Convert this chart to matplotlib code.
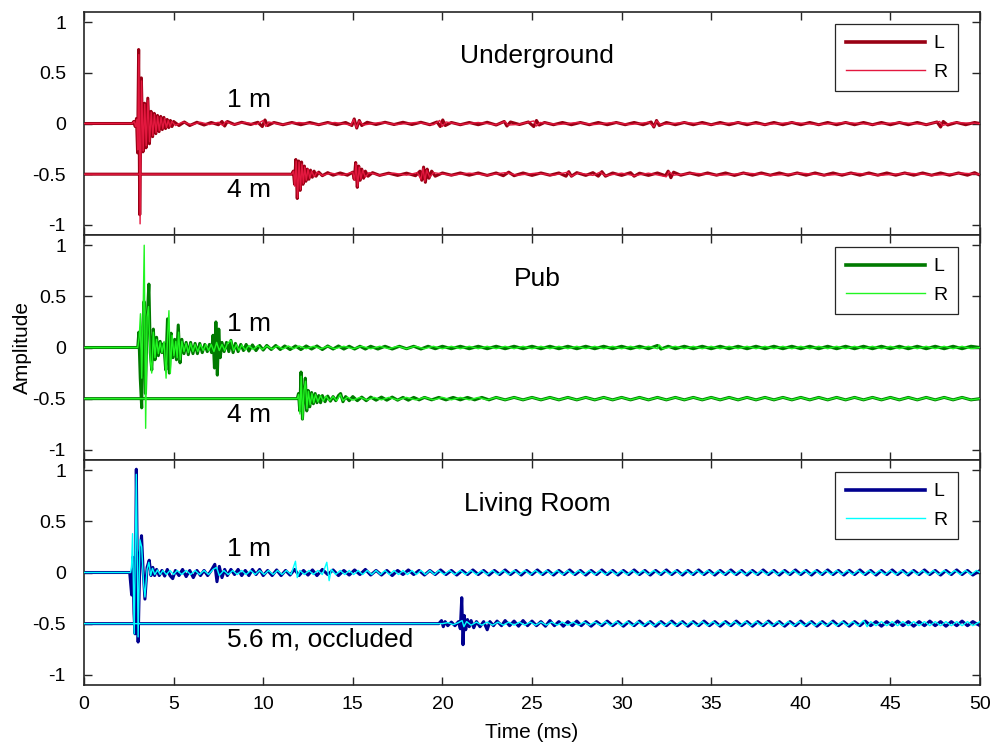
import matplotlib
matplotlib.use('Agg')
import matplotlib.pyplot as plt
from matplotlib.lines import Line2D

plt.rcParams['font.family'] = ['Liberation Sans', 'DejaVu Sans']

# ---------------- data ----------------
time_ticks = [0, 5, 10, 15, 20, 25, 30, 35, 40, 45, 50]
amp_ticks = [-1, -0.5, 0, 0.5, 1]
amp_tick_labels = ['-1', '-0.5', '0', '0.5', '1']
rooms = ['Underground', 'Pub', 'Living Room']
distance_labels = [['1 m', '4 m'], ['1 m', '4 m'], ['1 m', '5.6 m, occluded']]
trace_offsets = [0.0, -0.5]
channel_names = ['L', 'R']

# (time in ms, amplitude relative to trace baseline)
ug_1m_L = [(0, 0), (2.7, 0), (2.78, 0.02), (2.86, -0.03), (2.93, 0.05), (2.99, -0.29), (3.05, 0.73),
           (3.11, -0.9), (3.2, 0.45), (3.29, -0.28), (3.38, 0.2), (3.46, -0.24), (3.56, 0.25), (3.65, -0.2),
           (3.74, 0.12), (3.83, -0.13), (3.92, 0.1), (4.01, -0.1), (4.1, 0.08), (4.19, -0.08), (4.28, 0.07),
           (4.37, -0.06), (4.46, 0.06), (4.55, -0.05), (4.64, 0.04), (4.73, -0.04), (4.82, 0.03), (4.91, -0.03),
           (5.0, 0.02), (5.3, -0.02), (5.6, 0.015), (5.9, -0.02), (6.3, 0.012), (6.7, -0.015), (7.1, 0.01),
           (7.5, -0.012), (7.7, 0.02), (7.85, -0.025), (8.0, 0.02), (8.4, -0.01), (8.8, 0.012), (9.3, -0.01),
           (9.7, 0.012), (9.95, -0.03), (10.1, 0.035), (10.25, -0.02), (10.6, 0.01), (11.1, -0.012), (11.6, 0.01),
           (12.1, -0.012), (12.6, 0.01), (13.1, -0.012), (13.6, 0.01), (14.1, -0.012), (14.6, 0.01), (14.95, -0.02),
           (15.08, 0.045), (15.22, -0.045), (15.36, 0.03), (15.5, -0.02), (15.8, 0.012), (16.3, -0.01), (16.8, 0.012),
           (17.3, -0.01), (17.8, 0.012), (18.3, -0.01), (18.8, 0.012), (19.3, -0.012), (19.7, 0.015), (19.88, -0.03),
           (20.02, 0.035), (20.16, -0.02), (20.5, 0.01), (21.0, -0.012), (21.5, 0.01), (22.0, -0.012), (22.5, 0.012),
           (23.0, -0.015), (23.45, 0.02), (23.6, -0.025), (23.8, 0.015), (24.3, -0.01), (24.8, 0.015), (25.1, -0.03),
           (25.25, 0.03), (25.4, -0.015), (25.7, 0.01), (26.2, -0.012), (26.7, 0.01), (27.2, -0.012), (27.7, 0.01),
           (28.2, -0.012), (28.7, 0.01), (29.2, -0.012), (29.7, 0.01), (30.2, -0.012), (30.7, 0.01), (31.2, -0.012),
           (31.65, 0.015), (31.8, -0.035), (31.95, 0.03), (32.1, -0.02), (32.5, 0.01), (33.0, -0.012), (33.5, 0.01),
           (34.0, -0.012), (34.5, 0.01), (35.0, -0.012), (35.5, 0.01), (36.0, -0.012), (36.5, 0.01), (37.0, -0.012),
           (37.5, 0.01), (38.0, -0.012), (38.5, 0.01), (39.0, -0.012), (39.5, 0.01), (40.0, -0.012), (40.5, 0.01),
           (41.0, -0.012), (41.5, 0.01), (42.0, -0.012), (42.5, 0.01), (43.0, -0.012), (43.5, 0.01), (44.0, -0.012),
           (44.5, 0.01), (45.0, -0.012), (45.5, 0.01), (46.0, -0.012), (46.5, 0.01), (47.0, -0.012), (47.6, 0.015),
           (47.8, -0.035), (47.95, 0.02), (48.2, -0.015), (48.7, 0.01), (49.2, -0.012), (49.7, 0.01), (50, 0)]
ug_1m_R = [(0, 0), (2.7, 0), (2.8, 0.02), (2.88, -0.03), (2.95, 0.04), (3.0, -0.26), (3.06, 0.68), (3.13, -0.99),
           (3.21, 0.42), (3.3, -0.27), (3.39, 0.19), (3.47, -0.22), (3.57, 0.23), (3.66, -0.18), (3.75, 0.11),
           (3.84, -0.12), (3.93, 0.09), (4.02, -0.09), (4.11, 0.07), (4.2, -0.07), (4.3, 0.06), (4.4, -0.05),
           (4.5, 0.05), (4.6, -0.04), (4.7, 0.03), (4.8, -0.03), (4.9, 0.02), (5.1, -0.02), (5.5, 0.015),
           (6.0, -0.012), (6.5, 0.012), (7.0, -0.01), (7.5, 0.012), (7.75, -0.02), (7.9, 0.02), (8.3, -0.01),
           (9.0, 0.01), (9.6, -0.01), (10.0, 0.03), (10.15, -0.03), (10.3, 0.015), (11.0, -0.01), (12.0, 0.01),
           (13.0, -0.01), (14.0, 0.01), (14.9, -0.015), (15.05, 0.04), (15.2, -0.04), (15.35, 0.025), (15.6, -0.015),
           (16.5, 0.01), (17.5, -0.01), (18.5, 0.01), (19.5, -0.012), (19.85, 0.03), (20.0, -0.03), (20.2, 0.015),
           (21.0, -0.01), (22.0, 0.01), (23.0, -0.012), (23.5, 0.02), (23.65, -0.015), (24.2, -0.01), (25.1, 0.025),
           (25.25, -0.025), (25.45, 0.01), (26.5, -0.01), (27.5, 0.01), (28.5, -0.01), (29.5, 0.01), (30.5, -0.01),
           (31.5, 0.012), (31.8, -0.03), (31.95, 0.025), (32.2, -0.01), (33.5, 0.01), (35.0, -0.01), (36.5, 0.01),
           (38.0, -0.01), (39.5, 0.01), (41.0, -0.01), (42.5, 0.01), (44.0, -0.01), (45.5, 0.01), (47.0, -0.01),
           (47.75, 0.02), (47.9, -0.02), (48.5, 0.01), (50, 0)]
ug_4m_L = [(0, 0), (11.6, 0), (11.68, 0.03), (11.75, -0.1), (11.82, 0.145), (11.9, -0.24), (11.98, 0.13),
           (12.06, -0.16), (12.14, 0.12), (12.22, -0.1), (12.3, 0.08), (12.38, -0.07), (12.46, 0.05), (12.55, -0.05),
           (12.64, 0.04), (12.74, -0.03), (12.84, 0.03), (12.95, -0.02), (13.1, 0.02), (13.3, -0.015), (13.6, 0.015),
           (13.9, -0.01), (14.3, 0.012), (14.7, -0.01), (15.0, 0.02), (15.08, -0.05), (15.16, 0.115), (15.25, -0.13),
           (15.33, 0.08), (15.41, -0.06), (15.5, 0.05), (15.6, -0.04), (15.7, 0.03), (15.85, -0.02), (16.1, 0.015),
           (16.5, -0.012), (17.0, 0.01), (17.5, -0.012), (18.0, 0.01), (18.5, -0.015), (18.75, 0.03), (18.85, -0.06),
           (18.95, 0.07), (19.05, -0.08), (19.15, 0.05), (19.25, -0.04), (19.4, 0.03), (19.6, -0.02), (20.0, 0.012),
           (20.5, -0.01), (21.0, 0.012), (21.5, -0.01), (22.0, 0.012), (22.5, -0.012), (23.0, 0.012), (23.4, -0.015),
           (23.7, 0.02), (24.0, -0.015), (24.5, 0.012), (25.0, -0.012), (25.5, 0.012), (26.0, -0.01), (26.5, 0.012),
           (26.9, -0.02), (27.05, 0.025), (27.2, -0.02), (27.5, 0.015), (28.0, -0.012), (28.4, 0.015), (28.7, -0.02),
           (28.9, 0.025), (29.1, -0.02), (29.5, 0.012), (30.0, -0.012), (30.5, 0.015), (30.7, -0.02), (31.0, 0.01),
           (31.5, -0.012), (32.0, 0.012), (32.45, -0.015), (32.6, 0.03), (32.75, -0.035), (32.9, 0.02), (33.3, -0.01),
           (33.8, 0.012), (34.3, -0.01), (34.8, 0.012), (35.3, -0.01), (35.8, 0.012), (36.3, -0.012), (36.8, 0.012),
           (37.3, -0.01), (37.8, 0.012), (38.3, -0.01), (38.8, 0.012), (39.3, -0.01), (39.8, 0.012), (40.3, -0.01),
           (40.8, 0.012), (41.3, -0.01), (41.8, 0.012), (42.3, -0.01), (42.8, 0.012), (43.3, -0.01), (43.8, 0.012),
           (44.3, -0.01), (44.8, 0.012), (45.3, -0.01), (45.8, 0.012), (46.3, -0.01), (46.8, 0.012), (47.3, -0.01),
           (47.8, 0.012), (48.3, -0.01), (48.8, 0.012), (49.3, -0.01), (49.7, 0.015), (50, -0.01)]
ug_4m_R = [(0, 0), (11.6, 0), (11.7, 0.03), (11.77, -0.12), (11.84, 0.13), (11.92, -0.23), (12.0, 0.12),
           (12.08, -0.15), (12.16, 0.1), (12.24, -0.09), (12.32, 0.07), (12.4, -0.06), (12.5, 0.05), (12.6, -0.04),
           (12.7, 0.03), (12.85, -0.025), (13.0, 0.02), (13.3, -0.012), (13.8, 0.01), (14.4, -0.01), (15.0, 0.02),
           (15.1, -0.06), (15.18, 0.105), (15.27, -0.12), (15.36, 0.07), (15.45, -0.05), (15.55, 0.04), (15.7, -0.03),
           (15.9, 0.015), (16.5, -0.01), (17.3, 0.01), (18.0, -0.01), (18.6, 0.015), (18.8, -0.05), (18.92, 0.06),
           (19.02, -0.07), (19.12, 0.04), (19.3, -0.03), (19.5, 0.015), (20.5, -0.01), (21.5, 0.01), (22.5, -0.01),
           (23.5, 0.015), (24.2, -0.01), (25.2, 0.01), (26.2, -0.01), (27.0, 0.02), (27.2, -0.02), (27.6, 0.012),
           (28.4, -0.012), (28.8, 0.02), (29.1, -0.015), (30.0, 0.01), (30.7, -0.015), (31.5, 0.01), (32.5, -0.025),
           (32.65, 0.025), (32.9, -0.01), (34.0, 0.01), (35.5, -0.01), (37.0, 0.01), (38.5, -0.01), (40.0, 0.01),
           (41.5, -0.01), (43.0, 0.01), (44.5, -0.01), (46.0, 0.01), (47.5, -0.01), (49.0, 0.01), (50, 0)]

pub_1m_L = [(0, 0), (3.0, 0), (3.06, 0.15), (3.14, -0.3), (3.22, -0.59), (3.28, 0.2), (3.35, 0.45), (3.43, -0.45),
            (3.52, 0.25), (3.62, 0.62), (3.7, -0.05), (3.78, -0.22), (3.87, 0.18), (3.96, -0.12), (4.05, 0.1),
            (4.15, -0.08), (4.25, 0.06), (4.35, -0.05), (4.45, 0.04), (4.56, -0.22), (4.66, 0.28), (4.76, -0.25),
            (4.86, 0.14), (4.96, -0.1), (5.06, 0.08), (5.16, -0.12), (5.26, 0.22), (5.36, -0.15), (5.46, 0.08),
            (5.58, -0.06), (5.7, 0.05), (5.82, -0.07), (5.95, 0.05), (6.08, -0.06), (6.2, 0.04), (6.33, -0.06),
            (6.46, 0.04), (6.6, -0.05), (6.74, 0.03), (6.88, -0.04), (7.0, 0.03), (7.12, -0.05), (7.2, 0.12),
            (7.28, -0.2), (7.36, 0.25), (7.44, -0.27), (7.52, 0.18), (7.6, -0.1), (7.7, 0.05), (7.82, -0.04),
            (7.95, 0.05), (8.08, -0.04), (8.2, 0.07), (8.32, -0.05), (8.45, 0.04), (8.6, -0.04), (8.75, 0.03),
            (8.9, -0.03), (9.05, 0.03), (9.2, -0.035), (9.4, 0.025), (9.6, -0.03), (9.8, 0.02), (10.0, -0.025),
            (10.2, 0.02), (10.45, -0.02), (10.7, 0.02), (10.95, -0.02), (11.2, 0.015), (11.5, -0.02), (11.8, 0.015),
            (12.1, -0.02), (12.4, 0.015), (12.7, -0.015), (13.0, 0.015), (13.3, -0.02), (13.6, 0.015), (13.9, -0.015),
            (14.2, 0.015), (14.5, -0.015), (14.8, 0.012), (15.1, -0.015), (15.4, 0.012), (15.7, -0.015), (16.0, 0.012),
            (16.4, -0.015), (16.8, 0.012), (17.2, -0.015), (17.6, 0.012), (18.0, -0.012), (18.4, 0.012), (18.8, -0.015),
            (19.2, 0.012), (19.6, -0.012), (20.0, 0.012), (20.5, -0.012), (21.0, 0.012), (21.5, -0.012), (22.0, 0.012),
            (22.5, -0.012), (23.0, 0.012), (23.5, -0.012), (24.0, 0.012), (24.5, -0.012), (25.0, 0.012), (25.5, -0.012),
            (26.0, 0.012), (26.5, -0.012), (27.0, 0.012), (27.5, -0.012), (28.0, 0.012), (28.5, -0.012), (29.0, 0.012),
            (29.5, -0.012), (30.0, 0.012), (30.5, -0.012), (31.0, 0.012), (31.5, -0.012), (32.0, 0.02), (32.2, -0.015),
            (32.6, 0.012), (33.0, -0.012), (33.5, 0.012), (34.0, -0.012), (34.5, 0.012), (35.0, -0.012), (35.5, 0.012),
            (36.0, -0.012), (36.5, 0.012), (37.0, -0.012), (37.5, 0.012), (38.0, -0.012), (38.5, 0.012), (39.0, -0.012),
            (39.5, 0.012), (40.0, -0.012), (40.5, 0.012), (41.0, -0.012), (41.5, 0.012), (42.0, -0.012), (42.5, 0.012),
            (43.0, -0.012), (43.5, 0.012), (44.0, -0.012), (44.5, 0.012), (45.0, -0.012), (45.5, 0.012), (46.0, -0.012),
            (46.5, 0.012), (47.0, -0.012), (47.5, 0.012), (48.0, -0.012), (48.5, 0.012), (49.0, -0.012), (49.5, 0.012),
            (50, 0)]
pub_1m_R = [(0, 0), (3.0, 0), (3.08, 0.1), (3.15, 0.33), (3.22, -0.3), (3.29, 0.25), (3.36, 1.0), (3.44, -0.79),
            (3.52, 0.3), (3.6, 0.4), (3.7, -0.12), (3.78, -0.25), (3.87, 0.15), (3.96, -0.1), (4.05, 0.08),
            (4.15, -0.06), (4.25, 0.05), (4.35, -0.05), (4.47, 0.06), (4.58, -0.3), (4.66, 0.1), (4.74, 0.36),
            (4.82, -0.25), (4.92, 0.12), (5.02, -0.08), (5.12, 0.06), (5.2, -0.1), (5.28, 0.15), (5.37, -0.12),
            (5.46, 0.06), (5.58, -0.04), (5.7, 0.04), (5.82, -0.05), (5.95, 0.04), (6.08, -0.04), (6.2, 0.03),
            (6.35, -0.04), (6.5, 0.03), (6.65, -0.03), (6.8, 0.03), (6.95, -0.03), (7.1, 0.03), (7.25, -0.04),
            (7.4, 0.05), (7.55, -0.03), (7.7, 0.03), (7.85, -0.03), (8.0, 0.04), (8.2, 0.07), (8.35, -0.03),
            (8.5, 0.03), (8.65, -0.03), (8.8, 0.025), (9.0, -0.025), (9.2, 0.02), (9.45, -0.02), (9.7, 0.02),
            (9.95, -0.02), (10.2, 0.015), (10.5, -0.015), (10.8, 0.015), (11.1, -0.015), (11.4, 0.015), (11.7, -0.012),
            (12.0, 0.015), (12.4, -0.012), (12.8, 0.012), (13.2, -0.012), (13.6, 0.012), (14.0, -0.012), (14.5, 0.012),
            (15.0, -0.012), (15.5, 0.012), (16.0, -0.012), (16.5, 0.012), (17.0, -0.012), (17.5, 0.012), (18.0, -0.012),
            (18.5, 0.012), (19.0, -0.012), (19.5, 0.012), (20.0, -0.012), (20.5, 0.012), (21.0, -0.012), (21.5, 0.012),
            (22.0, -0.012), (22.5, 0.012), (23.0, -0.012), (23.5, 0.012), (24.0, -0.012), (24.5, 0.012), (25.0, -0.012),
            (25.5, 0.012), (26.0, -0.012), (26.5, 0.012), (27.0, -0.012), (27.5, 0.012), (28.0, -0.012), (28.5, 0.012),
            (29.0, -0.012), (29.5, 0.012), (30.0, -0.012), (30.5, 0.012), (31.0, -0.012), (31.5, 0.012), (32.0, -0.012),
            (32.1, 0.025), (32.3, -0.012), (33.0, 0.012), (33.5, -0.012), (34.0, 0.012), (34.5, -0.012), (35.0, 0.012),
            (35.5, -0.012), (36.0, 0.012), (36.5, -0.012), (37.0, 0.012), (37.5, -0.012), (38.0, 0.012), (38.5, -0.012),
            (39.0, 0.012), (39.5, -0.012), (40.0, 0.012), (40.5, -0.012), (41.0, 0.012), (41.5, -0.012), (42.0, 0.012),
            (42.5, -0.012), (43.0, 0.012), (43.5, -0.012), (44.0, 0.012), (44.5, -0.012), (45.0, 0.012), (45.5, -0.012),
            (46.0, 0.012), (46.5, -0.012), (47.0, 0.012), (47.5, -0.012), (48.0, 0.012), (48.5, -0.012), (49.0, 0.012),
            (49.5, -0.012), (50, 0)]
pub_4m_L = [(0, 0), (11.9, 0), (11.97, 0.05), (12.04, -0.12), (12.11, 0.26), (12.19, -0.2), (12.27, 0.05),
            (12.35, 0.2), (12.43, -0.12), (12.51, 0.08), (12.6, -0.08), (12.7, 0.06), (12.8, -0.05), (12.9, 0.05),
            (13.0, -0.04), (13.1, 0.03), (13.2, -0.04), (13.3, 0.03), (13.45, -0.03), (13.6, 0.025), (13.75, -0.025),
            (13.9, 0.02), (14.05, -0.02), (14.2, 0.03), (14.32, 0.05), (14.45, -0.03), (14.6, 0.02), (14.8, -0.02),
            (15.0, 0.02), (15.25, -0.02), (15.5, 0.015), (15.75, -0.02), (16.0, 0.015), (16.3, -0.015), (16.6, 0.015),
            (16.9, -0.015), (17.2, 0.015), (17.5, -0.015), (17.8, 0.012), (18.1, -0.015), (18.4, 0.012), (18.7, -0.012),
            (19.0, 0.012), (19.4, -0.012), (19.8, 0.012), (20.2, -0.012), (20.6, 0.012), (21.0, -0.012), (21.4, 0.012),
            (21.8, -0.012), (22.2, 0.012), (22.6, -0.012), (23.0, 0.012), (23.5, -0.012), (24.0, 0.012), (24.5, -0.012),
            (25.0, 0.012), (25.5, -0.012), (26.0, 0.012), (26.5, -0.012), (27.0, 0.012), (27.5, -0.012), (28.0, 0.012),
            (28.5, -0.012), (29.0, 0.012), (29.5, -0.012), (30.0, 0.012), (30.5, -0.012), (31.0, 0.012), (31.5, -0.012),
            (32.0, 0.012), (32.5, -0.012), (33.0, 0.012), (33.5, -0.012), (34.0, 0.012), (34.5, -0.012), (35.0, 0.012),
            (35.5, -0.012), (36.0, 0.012), (36.5, -0.012), (37.0, 0.012), (37.5, -0.012), (38.0, 0.012), (38.5, -0.012),
            (39.0, 0.012), (39.5, -0.012), (40.0, 0.012), (40.5, -0.012), (41.0, 0.012), (41.5, -0.012), (42.0, 0.012),
            (42.5, -0.012), (43.0, 0.012), (43.5, -0.012), (44.0, 0.012), (44.5, -0.012), (45.0, 0.012), (45.5, -0.012),
            (46.0, 0.012), (46.5, -0.012), (47.0, 0.012), (47.5, -0.012), (48.0, 0.012), (48.5, -0.012), (49.0, 0.012),
            (49.5, -0.012), (50, 0)]
pub_4m_R = [(0, 0), (11.9, 0), (11.98, 0.04), (12.05, -0.15), (12.12, 0.22), (12.2, -0.2), (12.28, 0.08),
            (12.36, 0.17), (12.44, -0.1), (12.52, 0.07), (12.62, -0.06), (12.72, 0.05), (12.82, -0.04), (12.92, 0.04),
            (13.05, -0.03), (13.2, 0.03), (13.35, -0.025), (13.5, 0.025), (13.7, -0.02), (13.9, 0.02), (14.1, -0.02),
            (14.3, 0.04), (14.45, -0.02), (14.7, 0.015), (15.0, -0.015), (15.4, 0.012), (15.8, -0.012), (16.2, 0.012),
            (16.6, -0.012), (17.0, 0.012), (17.5, -0.012), (18.0, 0.012), (18.5, -0.012), (19.0, 0.012), (19.5, -0.012),
            (20.0, 0.012), (20.5, -0.012), (21.0, 0.012), (21.5, -0.012), (22.0, 0.012), (22.5, -0.012), (23.0, 0.012),
            (23.5, -0.012), (24.0, 0.012), (24.5, -0.012), (25.0, 0.012), (25.5, -0.012), (26.0, 0.012), (26.5, -0.012),
            (27.0, 0.012), (27.5, -0.012), (28.0, 0.012), (28.5, -0.012), (29.0, 0.012), (29.5, -0.012), (30.0, 0.012),
            (30.5, -0.012), (31.0, 0.012), (31.5, -0.012), (32.0, 0.012), (32.5, -0.012), (33.0, 0.012), (33.5, -0.012),
            (34.0, 0.012), (34.5, -0.012), (35.0, 0.012), (35.5, -0.012), (36.0, 0.012), (36.5, -0.012), (37.0, 0.012),
            (37.5, -0.012), (38.0, 0.012), (38.5, -0.012), (39.0, 0.012), (39.5, -0.012), (40.0, 0.012), (40.5, -0.012),
            (41.0, 0.012), (41.5, -0.012), (42.0, 0.012), (42.5, -0.012), (43.0, 0.012), (43.5, -0.012), (44.0, 0.012),
            (44.5, -0.012), (45.0, 0.012), (45.5, -0.012), (46.0, 0.012), (46.5, -0.012), (47.0, 0.012), (47.5, -0.012),
            (48.0, 0.012), (48.5, -0.012), (49.0, 0.012), (49.5, -0.012), (50, 0)]

lr_1m_L = [(0, 0), (2.55, 0), (2.6, -0.1), (2.66, -0.22), (2.72, 0.15), (2.79, -0.4), (2.85, -0.6), (2.92, 1.01),
           (3.02, -0.68), (3.12, 0.15), (3.21, 0.36), (3.3, 0.02), (3.4, -0.26), (3.52, 0.05), (3.64, 0.12),
           (3.74, -0.03), (3.84, 0.05), (3.94, -0.03), (4.05, 0.03), (4.2, -0.03), (4.35, 0.02), (4.5, -0.035),
           (4.65, 0.03), (4.8, -0.03), (4.95, -0.06), (5.1, 0.02), (5.3, -0.03), (5.5, 0.03), (5.7, -0.04),
           (5.9, 0.02), (6.1, -0.05), (6.3, 0.02), (6.5, -0.03), (6.7, 0.02), (6.9, -0.03), (7.1, 0.02), (7.3, 0.08),
           (7.42, -0.09), (7.55, 0.06), (7.7, -0.05), (7.85, 0.03), (8.0, -0.03), (8.2, 0.03), (8.4, -0.02),
           (8.6, 0.03), (8.8, -0.03), (9.0, 0.02), (9.2, -0.03), (9.4, 0.03), (9.6, -0.02), (9.8, 0.03), (10.0, -0.03),
           (10.25, 0.02), (10.5, -0.03), (10.75, 0.025), (11.0, -0.03), (11.25, 0.02), (11.5, -0.025), (11.75, 0.03),
           (12.0, -0.03), (12.25, 0.02), (12.5, -0.025), (12.75, 0.025), (13.0, -0.03), (13.3, 0.03), (13.6, -0.02),
           (13.9, 0.025), (14.2, -0.03), (14.5, 0.02), (14.8, -0.025), (15.1, 0.025), (15.4, -0.02), (15.7, 0.03),
           (16.0, -0.025), (16.3, 0.02), (16.6, -0.025), (16.9, 0.02), (17.2, -0.03), (17.5, 0.02), (17.8, -0.02),
           (18.1, 0.025), (18.4, -0.02), (18.7, 0.02), (19.0, -0.025), (19.3, 0.02), (19.6, -0.02), (19.9, 0.025),
           (20.2, -0.02), (20.5, 0.02), (20.8, -0.025), (21.1, 0.02), (21.4, -0.02), (21.7, 0.025), (22.0, -0.02),
           (22.3, 0.02), (22.6, -0.025), (22.9, 0.02), (23.2, -0.02), (23.5, 0.025), (23.8, -0.02), (24.1, 0.02),
           (24.4, -0.025), (24.7, 0.02), (25.0, -0.02), (25.3, 0.025), (25.6, -0.02), (25.9, 0.02), (26.2, -0.025),
           (26.5, 0.02), (26.8, -0.02), (27.1, 0.025), (27.4, -0.02), (27.7, 0.02), (28.0, -0.025), (28.3, 0.02),
           (28.6, -0.02), (28.9, 0.025), (29.2, -0.02), (29.5, 0.02), (29.8, -0.025), (30.1, 0.02), (30.4, -0.02),
           (30.7, 0.025), (31.0, -0.02), (31.3, 0.02), (31.6, -0.025), (31.9, 0.02), (32.2, -0.02), (32.5, 0.025),
           (32.8, -0.02), (33.1, 0.02), (33.4, -0.025), (33.7, 0.02), (34.0, -0.02), (34.3, 0.025), (34.6, -0.02),
           (34.9, 0.02), (35.2, -0.025), (35.5, 0.02), (35.8, -0.02), (36.1, 0.025), (36.4, -0.02), (36.7, 0.02),
           (37.0, -0.025), (37.3, 0.02), (37.6, -0.02), (37.9, 0.025), (38.2, -0.02), (38.5, 0.02), (38.8, -0.025),
           (39.1, 0.02), (39.4, -0.02), (39.7, 0.025), (40.0, -0.02), (40.3, 0.02), (40.6, -0.025), (40.9, 0.02),
           (41.2, -0.02), (41.5, 0.025), (41.8, -0.02), (42.1, 0.02), (42.4, -0.025), (42.7, 0.02), (43.0, -0.02),
           (43.3, 0.025), (43.6, -0.02), (43.9, 0.02), (44.2, -0.025), (44.5, 0.02), (44.8, -0.02), (45.1, 0.025),
           (45.4, -0.02), (45.7, 0.02), (46.0, -0.025), (46.3, 0.02), (46.6, -0.02), (46.9, 0.025), (47.2, -0.02),
           (47.5, 0.02), (47.8, -0.025), (48.1, 0.02), (48.4, -0.02), (48.7, 0.025), (49.0, -0.02), (49.3, 0.02),
           (49.6, -0.025), (50, 0.02)]
lr_1m_R = [(0, 0), (2.6, 0), (2.65, 0.05), (2.71, 0.38), (2.8, -0.6), (2.86, 0.2), (2.92, 0.96), (3.02, -0.63),
           (3.12, 0.32), (3.22, 0.25), (3.32, -0.1), (3.4, -0.24), (3.52, 0.03), (3.62, 0.1), (3.72, -0.03),
           (3.82, 0.04), (3.95, -0.02), (4.1, 0.025), (4.25, -0.02), (4.4, 0.02), (4.6, -0.02), (4.8, 0.02),
           (5.0, -0.02), (5.2, 0.02), (5.45, -0.02), (5.7, 0.02), (5.95, -0.02), (6.2, 0.02), (6.45, -0.02),
           (6.7, 0.02), (6.95, -0.02), (7.2, 0.03), (7.4, 0.05), (7.55, -0.03), (7.8, 0.02), (8.05, -0.02),
           (8.3, 0.02), (8.55, -0.02), (8.8, 0.02), (9.05, -0.02), (9.3, 0.02), (9.55, -0.02), (9.8, 0.02),
           (10.05, -0.02), (10.3, 0.02), (10.55, -0.02), (10.8, 0.02), (11.05, -0.02), (11.3, 0.02), (11.55, -0.02),
           (11.8, 0.11), (11.9, -0.05), (12.05, 0.02), (12.3, -0.02), (12.55, 0.02), (12.8, -0.02), (13.05, 0.02),
           (13.3, -0.02), (13.55, 0.1), (13.68, -0.08), (13.8, 0.03), (14.05, -0.02), (14.3, 0.02), (14.55, -0.02),
           (14.8, 0.02), (15.05, -0.02), (15.3, 0.02), (15.55, -0.02), (15.8, 0.02), (16.05, -0.02), (16.3, 0.02),
           (16.55, -0.02), (16.8, 0.02), (17.05, -0.02), (17.3, 0.02), (17.55, -0.02), (17.8, 0.02), (18.05, -0.02),
           (18.3, 0.02), (18.55, -0.02), (18.8, 0.02), (19.05, -0.02), (19.3, 0.02), (19.55, -0.02), (19.8, 0.02),
           (20.1, -0.02), (20.4, 0.02), (20.7, -0.02), (21.0, 0.02), (21.3, -0.02), (21.6, 0.02), (21.9, -0.02),
           (22.2, 0.02), (22.5, -0.02), (22.8, 0.02), (23.1, -0.02), (23.4, 0.02), (23.7, -0.02), (24.0, 0.02),
           (24.3, -0.02), (24.6, 0.02), (24.9, -0.02), (25.2, 0.02), (25.5, -0.02), (25.8, 0.02), (26.1, -0.02),
           (26.4, 0.02), (26.7, -0.02), (27.0, 0.02), (27.3, -0.02), (27.6, 0.02), (27.9, -0.02), (28.2, 0.02),
           (28.5, -0.02), (28.8, 0.02), (29.1, -0.02), (29.4, 0.02), (29.7, -0.02), (30.0, 0.02), (30.3, -0.02),
           (30.6, 0.02), (30.9, -0.02), (31.2, 0.02), (31.5, -0.02), (31.8, 0.02), (32.1, -0.02), (32.4, 0.02),
           (32.7, -0.02), (33.0, 0.02), (33.3, -0.02), (33.6, 0.02), (33.9, -0.02), (34.2, 0.02), (34.5, -0.02),
           (34.8, 0.02), (35.1, -0.02), (35.4, 0.02), (35.7, -0.02), (36.0, 0.02), (36.3, -0.02), (36.6, 0.02),
           (36.9, -0.02), (37.2, 0.02), (37.5, -0.02), (37.8, 0.02), (38.1, -0.02), (38.4, 0.02), (38.7, -0.02),
           (39.0, 0.02), (39.3, -0.02), (39.6, 0.02), (39.9, -0.02), (40.2, 0.02), (40.5, -0.02), (40.8, 0.02),
           (41.1, -0.02), (41.4, 0.02), (41.7, -0.02), (42.0, 0.02), (42.3, -0.02), (42.6, 0.02), (42.9, -0.02),
           (43.2, 0.02), (43.5, -0.02), (43.8, 0.02), (44.1, -0.02), (44.4, 0.02), (44.7, -0.02), (45.0, 0.02),
           (45.3, -0.02), (45.6, 0.02), (45.9, -0.02), (46.2, 0.02), (46.5, -0.02), (46.8, 0.02), (47.1, -0.02),
           (47.4, 0.02), (47.7, -0.02), (48.0, 0.02), (48.3, -0.02), (48.6, 0.02), (48.9, -0.02), (49.2, 0.02),
           (49.5, -0.02), (49.8, 0.02), (50, 0)]
lr_56m_L = [(0, 0), (19.8, 0), (19.95, 0.03), (20.05, -0.03), (20.15, 0.02), (20.3, -0.02), (20.5, 0.015),
            (20.7, -0.02), (20.9, 0.02), (21.0, -0.05), (21.08, 0.254), (21.15, -0.206), (21.22, 0.08), (21.3, -0.06),
            (21.4, 0.04), (21.5, -0.03), (21.6, 0.03), (21.75, -0.04), (21.9, 0.02), (22.1, -0.03), (22.3, 0.02),
            (22.5, -0.06), (22.65, 0.02), (22.85, -0.02), (23.05, 0.025), (23.3, -0.02), (23.5, 0.03), (23.75, -0.02),
            (24.0, 0.025), (24.25, -0.025), (24.5, 0.03), (24.75, -0.02), (25.0, 0.025), (25.25, -0.02), (25.5, 0.02),
            (25.75, -0.025), (26.0, 0.03), (26.25, -0.02), (26.5, 0.02), (26.75, -0.025), (27.0, 0.02), (27.25, -0.02),
            (27.5, 0.025), (27.75, -0.02), (28.0, 0.02), (28.3, -0.025), (28.6, 0.02), (28.9, -0.02), (29.2, 0.025),
            (29.5, -0.02), (29.8, 0.02), (30.1, -0.025), (30.4, 0.02), (30.7, -0.02), (31.0, 0.025), (31.3, -0.02),
            (31.6, 0.02), (31.9, -0.025), (32.2, 0.02), (32.5, -0.02), (32.8, 0.025), (33.1, -0.02), (33.4, 0.02),
            (33.7, -0.025), (34.0, 0.02), (34.3, -0.02), (34.6, 0.025), (34.9, -0.02), (35.2, 0.02), (35.5, -0.025),
            (35.8, 0.02), (36.1, -0.02), (36.4, 0.025), (36.7, -0.02), (37.0, 0.02), (37.3, -0.025), (37.6, 0.02),
            (37.9, -0.02), (38.2, 0.025), (38.5, -0.02), (38.8, 0.02), (39.1, -0.025), (39.4, 0.02), (39.7, -0.02),
            (40.0, 0.025), (40.3, -0.02), (40.6, 0.02), (40.9, -0.025), (41.2, 0.02), (41.5, -0.02), (41.8, 0.025),
            (42.1, -0.02), (42.4, 0.02), (42.7, -0.025), (43.0, 0.02), (43.3, -0.02), (43.6, 0.025), (43.9, -0.02),
            (44.2, 0.02), (44.5, -0.025), (44.8, 0.02), (45.1, -0.02), (45.4, 0.025), (45.7, -0.02), (46.0, 0.02),
            (46.3, -0.025), (46.6, 0.02), (46.9, -0.02), (47.2, 0.025), (47.5, -0.02), (47.8, 0.02), (48.1, -0.025),
            (48.4, 0.02), (48.7, -0.02), (49.0, 0.025), (49.3, -0.02), (49.6, 0.02), (50, -0.02)]
lr_56m_R = [(0, 0), (20.0, 0), (20.3, 0.01), (20.6, -0.01), (20.9, 0.01), (21.1, 0.03), (21.2, -0.03), (21.35, 0.02),
            (21.6, -0.015), (21.9, 0.015), (22.2, -0.015), (22.5, 0.015), (22.8, -0.015), (23.1, 0.015), (23.4, -0.015),
            (23.7, 0.015), (24.0, -0.015), (24.3, 0.015), (24.6, -0.015), (24.9, 0.015), (25.2, -0.015), (25.5, 0.015),
            (25.8, -0.015), (26.1, 0.015), (26.4, -0.015), (26.7, 0.015), (27.0, -0.015), (27.3, 0.015), (27.6, -0.015),
            (27.9, 0.015), (28.2, -0.015), (28.5, 0.015), (28.8, -0.015), (29.1, 0.02), (29.4, -0.02), (29.7, 0.02),
            (30.0, -0.02), (30.3, 0.02), (30.6, -0.02), (30.9, 0.02), (31.2, -0.02), (31.5, 0.02), (31.8, -0.02),
            (32.1, 0.02), (32.4, -0.02), (32.7, 0.02), (33.0, -0.02), (33.3, 0.02), (33.6, -0.02), (33.9, 0.02),
            (34.2, -0.02), (34.5, 0.02), (34.8, -0.02), (35.1, 0.02), (35.4, -0.02), (35.7, 0.02), (36.0, -0.02),
            (36.3, 0.02), (36.6, -0.02), (36.9, 0.02), (37.2, -0.02), (37.5, 0.02), (37.8, -0.02), (38.1, 0.02),
            (38.4, -0.02), (38.7, 0.02), (39.0, -0.02), (39.3, 0.02), (39.6, -0.02), (39.9, 0.02), (40.2, -0.02),
            (40.5, 0.02), (40.8, -0.02), (41.1, 0.02), (41.4, -0.02), (41.7, 0.02), (42.0, -0.02), (42.3, 0.02),
            (42.6, -0.02), (42.9, 0.02), (43.2, -0.02), (43.5, 0.03), (43.7, -0.03), (43.9, 0.02), (44.2, -0.02),
            (44.5, 0.02), (44.8, -0.02), (45.1, 0.02), (45.4, -0.02), (45.7, 0.02), (46.0, -0.02), (46.3, 0.02),
            (46.6, -0.02), (46.9, 0.02), (47.2, -0.02), (47.5, 0.02), (47.8, -0.02), (48.1, 0.02), (48.4, -0.02),
            (48.7, 0.02), (49.0, -0.02), (49.3, 0.02), (49.6, -0.02), (50, 0.02)]

# traces[room][distance] = (L, R)
traces = [
    [(ug_1m_L, ug_1m_R), (ug_4m_L, ug_4m_R)],
    [(pub_1m_L, pub_1m_R), (pub_4m_L, pub_4m_R)],
    [(lr_1m_L, lr_1m_R), (lr_56m_L, lr_56m_R)],
]

# ---------------- style ----------------
colors = [('#990014', '#E3183F'), ('#007A00', '#22F522'), ('#00008F', '#00FFFF')]
lw_L, lw_R = 2.2, 1.0
spine_col = '#262626'

fig = plt.figure(figsize=(9.94, 7.49), dpi=100)
W, H = 994, 749
left_px, right_px = 84, 980
panel_tops = [12, 235, 460]
panel_bots = [235, 460, 685]

axes = []
for i in range(3):
    ax = fig.add_axes([left_px / W, 1 - panel_bots[i] / H,
                       (right_px - left_px) / W, (panel_bots[i] - panel_tops[i]) / H])
    axes.append(ax)
    for d in range(2):
        L, R = traces[i][d]
        tL, aL = zip(*L)
        tR, aR = zip(*R)
        off = trace_offsets[d]
        ax.plot(tL, [a + off for a in aL], color=colors[i][0], lw=lw_L, solid_joinstyle='round', zorder=2)
        ax.plot(tR, [a + off for a in aR], color=colors[i][1], lw=lw_R, solid_joinstyle='round', zorder=3)
    ax.set_xlim(0, 50)
    ax.set_ylim(-1.1, 1.1)
    ax.set_xticks(time_ticks)
    ax.set_yticks(amp_ticks)
    ax.set_yticklabels(amp_tick_labels)
    ax.tick_params(direction='in', top=True, right=True, length=6, width=1.0,
                   labelsize=14, colors='#262626', labelcolor='black')
    ax.tick_params(axis='y', pad=13)
    ax.tick_params(axis='x', pad=8)
    if i < 2:
        ax.tick_params(labelbottom=False)
    for s in ax.spines.values():
        s.set_color(spine_col)
        s.set_linewidth(1.2)
    ax.text(25.3, 0.67, rooms[i], ha='center', va='center', fontsize=19)
    ax.text(8.0, 0.23, distance_labels[i][0], ha='left', va='center', fontsize=19)
    ax.text(8.0, -0.66, distance_labels[i][1], ha='left', va='center', fontsize=19)
    handles = [Line2D([], [], color=colors[i][0], lw=2.6),
               Line2D([], [], color=colors[i][1], lw=1.0)]
    leg = ax.legend(handles, channel_names, loc='upper right', bbox_to_anchor=(0.9755, 0.946),
                    borderaxespad=0, fontsize=14, handlelength=4.1, handletextpad=0.4,
                    labelspacing=0.55, borderpad=0.55, fancybox=False, framealpha=1, edgecolor='#262626')
    leg.get_frame().set_linewidth(0.9)

axes[2].set_xlabel('Time (ms)', fontsize=15, labelpad=7)
fig.text(22 / W, 1 - 348 / H, 'Amplitude', rotation=90, ha='center', va='center', fontsize=15)

fig.savefig('out.png', dpi=100)
